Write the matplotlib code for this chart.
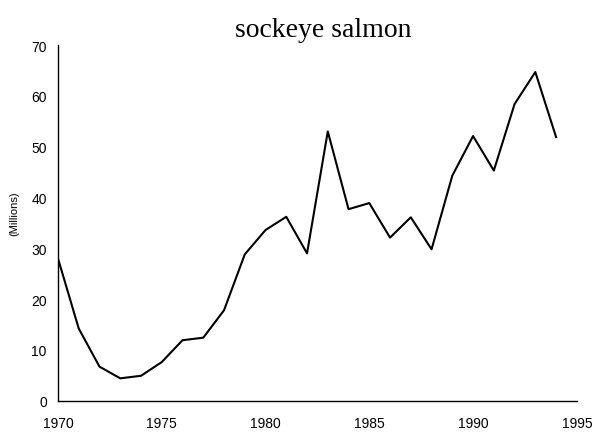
import numpy as np
from matplotlib import pyplot as plt

years = np.arange(1970, 1995)
catch = [28.0, 14.2, 6.7, 4.4, 4.9, 7.6, 11.9, 12.4, 17.8, 28.8,
         33.6, 36.2, 29.0, 53.0, 37.7, 38.9, 32.1, 36.1, 29.8, 44.3,
         52.1, 45.3, 58.4, 64.7, 51.9]
xticks = [1970, 1975, 1980, 1985, 1990, 1995]
yticks = [0, 10, 20, 30, 40, 50, 60, 70]

plt.rcParams['font.family'] = ['Liberation Sans', 'DejaVu Sans']
fig = plt.figure(figsize=(5.99, 4.35), dpi=100)
ax = fig.add_axes([0.0968, 0.0766, 0.8662, 0.8174])

ax.plot(years, catch, color='black', lw=1.5)

ax.set_xlim(1970, 1995)
ax.set_ylim(0, 70)
ax.set_xticks(xticks)
ax.set_yticks(yticks)
ax.tick_params(axis='both', length=0, labelsize=10)
ax.tick_params(axis='x', pad=11)
ax.tick_params(axis='y', pad=8)
for s in ['top', 'right']:
    ax.spines[s].set_visible(False)
for s in ['left', 'bottom']:
    ax.spines[s].set_linewidth(1.0)

ax.set_ylabel('(Millions)', fontsize=8)
ax.yaxis.set_label_coords(-0.075, 0.53)

fig.text(0.539, 0.915, 'sockeye salmon', ha='center', va='baseline',
         family=['Liberation Serif'], fontsize=20)

plt.savefig('out.png', dpi=100)
